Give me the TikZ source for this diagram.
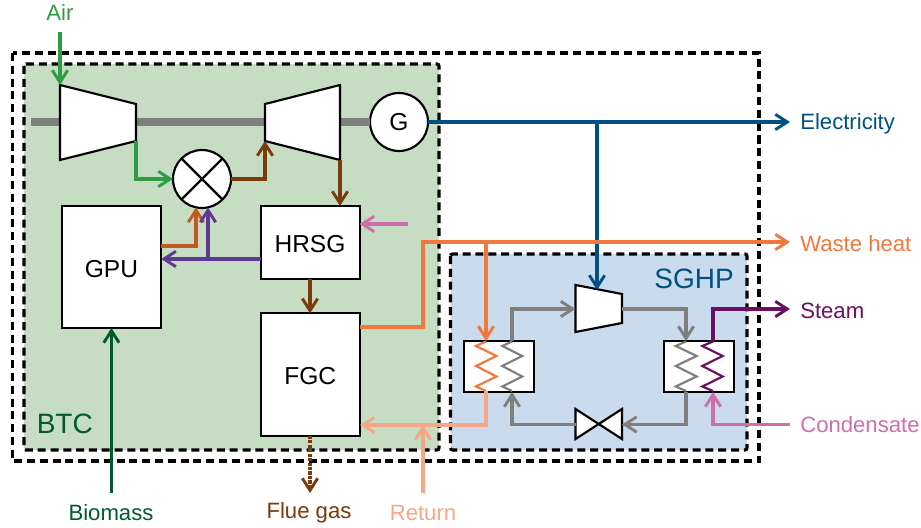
\documentclass[tikz,border=0pt]{standalone}
\usepackage{fontspec}
\setmainfont{Liberation Sans}
\usetikzlibrary{arrows.meta,calc}
\definecolor{cgreen}{HTML}{2E9B45}
\definecolor{cdgreen}{HTML}{005A2E}
\definecolor{cbrown}{HTML}{7A3A0A}
\definecolor{cobrown}{HTML}{C05A20}
\definecolor{cpurple}{HTML}{5E3A92}
\definecolor{cpink}{HTML}{CC6FAB}
\definecolor{corange}{HTML}{F0783C}
\definecolor{cpeach}{HTML}{F5A886}
\definecolor{cblue}{HTML}{005082}
\definecolor{cdpurple}{HTML}{6B0F5F}
\definecolor{cgray}{HTML}{7F7F7F}
\definecolor{btcbg}{HTML}{C7DDC3}
\definecolor{sghpbg}{HTML}{C9DBEC}
\tikzset{
  flow/.style={line width=2.35pt,-{Straight Barb[length=9pt,width=11.5pt,line width=2.2pt]}},
  plainflow/.style={line width=2.35pt},
  zig/.style={line width=1.6pt},
  sysbox/.style={draw=black,line width=2.35pt,dash pattern=on 6pt off 3.6pt},
  unitbox/.style={draw=black,line width=1.5pt,fill=white,inner sep=0pt,outer sep=0pt,text height=15pt,text depth=0pt,font=\fontsize{18.4}{20}\selectfont,anchor=north west},
  roundunit/.style={draw=black,line width=1.6pt,fill=white,circle,inner sep=0pt,outer sep=0pt,minimum size=43.5pt,font=\fontsize{18.4}{20}\selectfont},
  machine/.style={draw=black,line width=1.6pt,fill=white,line join=miter},
  stream/.style={font=\fontsize{16.6}{19}\selectfont,inner sep=0pt},
  syslabel/.style={font=\fontsize{21}{24}\selectfont,inner sep=0pt}
}
\newcommand{\zigzag}[4]{% colour, centre x, left x, right x
  \draw[zig,#1] (#2,341.5) -- (#3,346) -- (#4,356) -- (#3,366) -- (#4,376.5) -- (#3,386.5) -- (#2,391);
}
\begin{document}
\begin{tikzpicture}[x=0.75pt,y=-0.75pt]
\useasboundingbox (0,0) rectangle (921,528);
% coordinates
\coordinate (compIn) at (60,85);
\coordinate (compOut) at (136,141);
\coordinate (turbIn) at (265,141);
\coordinate (turbOut) at (340,160);
\coordinate (airSrc) at (60,32);
\coordinate (elecEnd) at (790,122);
\coordinate (wasteEnd) at (790,242);
\coordinate (steamEnd) at (790,309);
\coordinate (condSrc) at (790,424.5);
\coordinate (bioSrc) at (111,493);
\coordinate (flueEnd) at (310,493);
\coordinate (retSrc) at (423,493);
\coordinate (pinkSrc) at (408,224);
\coordinate (shaftL) at (31,122);
% system boxes
\draw[sysbox] (12.5,53) rectangle (759,461);
\draw[sysbox,fill=btcbg,rounded corners=1.5pt] (24,64) rectangle (439,450);
\draw[sysbox,fill=sghpbg,rounded corners=1.5pt] (450.5,254) rectangle (747,450);
\node[syslabel,text=cdgreen,anchor=base west] (btc) at (36.5,433) {BTC};
\node[syslabel,text=cblue,anchor=base east] (sghp) at (734,288) {SGHP};
% units
\node[roundunit] (G) at (399,122) {G};
\draw[cgray,line width=5.3pt] (shaftL) -- (G.west);
\draw[machine] (60,85) -- (136,104) -- (136,141) -- (60,160) -- cycle;
\draw[machine] (265,104) -- (340,85) -- (340,160) -- (265,141) -- cycle;
\node[roundunit] (M) at (202,179) {};
\draw[line width=1.6pt] (M.45) -- (M.225) (M.135) -- (M.315);
\node[unitbox,minimum width=74.6pt,minimum height=91.5pt] (GPU) at (61.7,206) {GPU};
\node[unitbox,minimum width=74.25pt,minimum height=54.4pt] (HRSG) at (260.5,206) {HRSG};
\node[unitbox,minimum width=74.6pt,minimum height=91.8pt] (FGC) at (260.5,313.3) {FGC};
\node[unitbox,minimum width=52.5pt,minimum height=38.2pt] (HXL) at (464,341) {};
\node[unitbox,minimum width=52.5pt,minimum height=38.2pt] (HXR) at (664,341) {};
\draw[machine] (575.5,285) -- (622,294) -- (622,323) -- (575.5,332) -- cycle;
\coordinate (hpIn) at (575.5,309);
\coordinate (hpOut) at (622,309);
\draw[machine] (575.5,409) -- (622,439) -- (622,409) -- (575.5,439) -- cycle;
\coordinate (vR) at (622,424.5);
\coordinate (vL) at (575.5,424.5);
% coils
\zigzag{corange}{486}{476}{496.5}
\zigzag{cgray}{512}{502.3}{522.3}
\zigzag{cgray}{686}{675.7}{696.7}
\zigzag{cdpurple}{713}{702.3}{722.7}
% BTC connectors
\draw[flow,cgreen] (airSrc) -- (compIn);
\draw[flow,cgreen] (compOut) |- (M.west);
\draw[flow,cbrown] (M.east) -| (turbIn);
\draw[flow,cbrown] (turbOut) -- (340,206);
\draw[flow,cobrown] (GPU.east |- 0,246) -| (196,207.5);
\draw[flow,cpurple] (HRSG.west |- 0,259) -- (GPU.east |- 0,259);
\draw[flow,cpurple] (208,259) -- (208,207.5);
\draw[flow,cpink] (pinkSrc) -- (HRSG.east |- pinkSrc);
\draw[flow,cbrown] (HRSG.south) -- (HRSG.south |- FGC.north);
\draw[flow,cbrown,densely dotted,-{Straight Barb[length=9pt,width=11.5pt,line width=2.2pt]}] (FGC.south -| flueEnd) -- (flueEnd);
\draw[flow,cdgreen] (GPU.south |- bioSrc) -- (GPU.south);
% output lines
\draw[flow,cblue] (G.east) -- (elecEnd);
\draw[flow,cblue] (597,122) -- (597,290);
\draw[flow,corange] (FGC.east |- 0,327) -| (423,242) -- (wasteEnd);
\draw[flow,corange] (486,242) -- (486,341);
\draw[flow,cpeach] (486,391) |- (FGC.east |- 0,425);
\draw[flow,cpeach] (retSrc) -- (423,425);
% SGHP connectors
\draw[flow,cgray] (512,341) |- (hpIn);
\draw[flow,cgray] (hpOut) -| (686,341);
\draw[flow,cgray] (686,392) |- (vR);
\draw[flow,cgray] (vL) -| (512,392);
\draw[plainflow,cdpurple,-{Straight Barb[length=9pt,width=11.5pt,line width=2.2pt]}] (713,341) |- (steamEnd);
\draw[flow,cpink] (condSrc) -| (713,392);
% labels
\node[stream,text=cgreen] (air) at (60,12) {Air};
\node[stream,text=cblue,anchor=west] (elec) at (800,124) {Electricity};
\node[stream,text=corange,anchor=west] (waste) at (800,244) {Waste heat};
\node[stream,text=cdpurple,anchor=west] (steam) at (800,311) {Steam};
\node[stream,text=cpink,anchor=west] (cond) at (800,424.5) {Condensate};
\node[stream,text=cdgreen] (bio) at (111,513) {Biomass};
\node[stream,text=cbrown] (flue) at (309,513) {Flue gas};
\node[stream,text=cpeach] (ret) at (423,513) {Return};
\end{tikzpicture}
\end{document}
